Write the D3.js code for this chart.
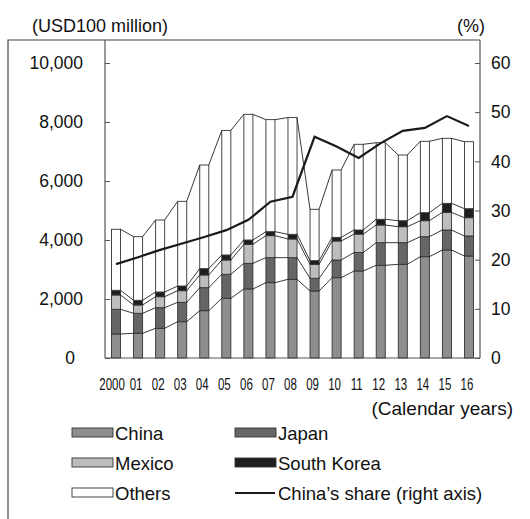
<!DOCTYPE html>
<html>
<head>
<meta charset="utf-8">
<script src="https://d3js.org/d3.v7.min.js"></script>
<style>
  body { margin: 0; background: #fff; }
  text { font-family: Arial, "Liberation Sans", sans-serif; fill: #111; }
</style>
</head>
<body>
<div id="chart"></div>
<script>
// Data (USD100 million)
var years = ["2000", "01", "02", "03", "04", "05", "06", "07", "08", "09", "10", "11", "12", "13", "14", "15", "16"];
var china = [814, 837, 1007, 1231, 1604, 2023, 2339, 2554, 2667, 2271, 2722, 2949, 3142, 3175, 3434, 3661, 3458];
var japan = [836, 678, 698, 657, 780, 814, 870, 847, 734, 430, 600, 626, 767, 734, 678, 678, 678];
var mexico = [486, 282, 373, 394, 430, 485, 644, 746, 633, 474, 644, 625, 599, 542, 542, 599, 620];
var korea = [159, 159, 159, 159, 214, 170, 147, 135, 158, 124, 124, 139, 193, 203, 272, 306, 305];
var others = [2068, 2156, 2441, 2870, 3514, 4223, 4260, 3798, 3958, 1742, 2283, 2905, 2597, 2227, 2420, 2203, 2271];
var chinaShare = [19.1, 20.5, 22.0, 23.3, 24.6, 26.0, 28.1, 31.8, 32.8, 45.0, 43.0, 40.7, 43.7, 46.2, 46.8, 49.2, 47.2];

var leftTicks = [0, 2000, 4000, 6000, 8000, 10000];
var rightTicks = [0, 10, 20, 30, 40, 50, 60];

var seriesKeys = ["China", "Japan", "Mexico", "South Korea", "Others"];
var colors = {
  "China": "#8e8e8e",
  "Japan": "#666666",
  "Mexico": "#bdbdbd",
  "South Korea": "#1e1e1e",
  "Others": "#ffffff"
};

var svgWidth = 530;
var svgHeight = 519;

var plot = { left: 105, right: 480, top: 40, bottom: 358 };

var svg = d3.select("#chart")
  .append("svg")
  .attr("width", svgWidth)
  .attr("height", svgHeight);

// build table for stacking
var table = years.map(function(y, i) {
  return {
    year: y,
    "China": china[i],
    "Japan": japan[i],
    "Mexico": mexico[i],
    "South Korea": korea[i],
    "Others": others[i]
  };
});

var stacked = d3.stack().keys(seriesKeys)(table);

var x = d3.scaleBand()
  .domain(years)
  .range([plot.left, plot.right])
  .paddingInner(0.59)
  .paddingOuter(0.295);

var y = d3.scaleLinear()
  .domain([0, 10000])
  .range([plot.bottom, 63]);

var yRight = d3.scaleLinear()
  .domain([0, 60])
  .range([plot.bottom, 63]);

// frame
svg.append("path")
  .attr("d", "M8," + svgHeight + "V" + plot.top + "H" + plot.right)
  .attr("fill", "none")
  .attr("stroke", "#444")
  .attr("stroke-width", 1.2);

// bars
var layers = svg.selectAll(".layer")
  .data(stacked)
  .enter()
  .append("g")
  .attr("class", "layer")
  .attr("fill", d => colors[d.key]);

layers.selectAll("rect")
  .data(d => d)
  .enter()
  .append("rect")
  .attr("x", d => x(d.data.year))
  .attr("y", d => y(d[1]))
  .attr("width", x.bandwidth())
  .attr("height", d => y(d[0]) - y(d[1]))
  .attr("stroke", "#333")
  .attr("stroke-width", 0.9);

// series lines between bars
stacked.forEach(function(layer) {
  for (var i = 0; i < layer.length - 1; i++) {
    svg.append("line")
      .attr("x1", x(years[i]) + x.bandwidth())
      .attr("y1", y(layer[i][1]))
      .attr("x2", x(years[i + 1]))
      .attr("y2", y(layer[i + 1][1]))
      .attr("stroke", "#222")
      .attr("stroke-width", 0.9);
  }
});

// axes
var leftAxis = d3.axisRight(y).tickValues(leftTicks).tickSize(5).tickFormat("");
var rightAxis = d3.axisLeft(yRight).tickValues(rightTicks).tickSize(5).tickFormat("");

var gl = svg.append("g")
  .attr("transform", `translate(${plot.left}, 0)`)
  .call(leftAxis);
var gr = svg.append("g")
  .attr("transform", `translate(${plot.right}, 0)`)
  .call(rightAxis);

[gl, gr].forEach(function(g) {
  g.select(".domain").remove();
  g.selectAll(".tick line").attr("stroke", "#555");
});

svg.append("line")
  .attr("x1", plot.left).attr("x2", plot.left)
  .attr("y1", plot.top).attr("y2", plot.bottom)
  .attr("stroke", "#555").attr("stroke-width", 1.2);
svg.append("line")
  .attr("x1", plot.right).attr("x2", plot.right)
  .attr("y1", plot.top).attr("y2", plot.bottom)
  .attr("stroke", "#555").attr("stroke-width", 1.2);
svg.append("line")
  .attr("x1", plot.left).attr("x2", plot.right)
  .attr("y1", plot.bottom).attr("y2", plot.bottom)
  .attr("stroke", "#555").attr("stroke-width", 1.2);

// China's share line
var line = d3.line()
  .x((d, i) => x(years[i]) + x.bandwidth() / 2)
  .y(d => yRight(d));

svg.append("path")
  .datum(chinaShare)
  .attr("d", line)
  .attr("fill", "none")
  .attr("stroke", "#1a1a1a")
  .attr("stroke-width", 2.2);

// tick labels
svg.selectAll(".ylab")
  .data(leftTicks)
  .enter()
  .append("text")
  .attr("x", d => d === 0 ? 75 : 83)
  .attr("y", d => y(d))
  .attr("dy", "0.36em")
  .attr("text-anchor", "end")
  .attr("font-size", "17.5px")
  .text(d => d3.format(",")(d));

svg.selectAll(".yrlab")
  .data(rightTicks)
  .enter()
  .append("text")
  .attr("x", 491)
  .attr("y", d => yRight(d))
  .attr("dy", "0.36em")
  .attr("font-size", "17.5px")
  .text(d => d);

svg.selectAll(".xlab")
  .data(years)
  .enter()
  .append("text")
  .attr("transform", (d, i) => `translate(${x(d) + x.bandwidth() / 2 - (i === 0 ? 4 : 2)}, 390) scale(0.72, 1)`)
  .attr("text-anchor", "middle")
  .attr("font-size", "16px")
  .text(d => d);

// titles
svg.append("text")
  .attr("x", 32).attr("y", 32)
  .attr("font-size", "18px")
  .text("(USD100 million)");
svg.append("text")
  .attr("x", 457).attr("y", 32)
  .attr("font-size", "18px")
  .text("(%)");
svg.append("text")
  .attr("x", 513).attr("y", 415)
  .attr("text-anchor", "end")
  .attr("font-size", "19px")
  .text("(Calendar years)");

// legend
var legendItems = [
  { key: "China", col: 0, row: 0 },
  { key: "Japan", col: 1, row: 0 },
  { key: "Mexico", col: 0, row: 1 },
  { key: "South Korea", col: 1, row: 1 },
  { key: "Others", col: 0, row: 2 },
  { key: "China\u2019s share (right axis)", col: 1, row: 2, line: true }
];

var legend = svg.selectAll(".legend")
  .data(legendItems)
  .enter()
  .append("g")
  .attr("transform", d => `translate(${d.col ? 235 : 72}, ${433 + d.row * 30})`);

legend.filter(d => !d.line)
  .append("rect")
  .attr("x", 0).attr("y", -5)
  .attr("width", 41).attr("height", 9)
  .attr("fill", d => colors[d.key])
  .attr("stroke", "#333")
  .attr("stroke-width", 0.9);

legend.filter(d => d.line)
  .append("line")
  .attr("x1", 0).attr("x2", 40)
  .attr("y1", 0).attr("y2", 0)
  .attr("stroke", "#1a1a1a")
  .attr("stroke-width", 2);

legend.append("text")
  .attr("x", 43)
  .attr("dy", "0.36em")
  .attr("font-size", "18.5px")
  .text(d => d.key);
</script>
</body>
</html>
